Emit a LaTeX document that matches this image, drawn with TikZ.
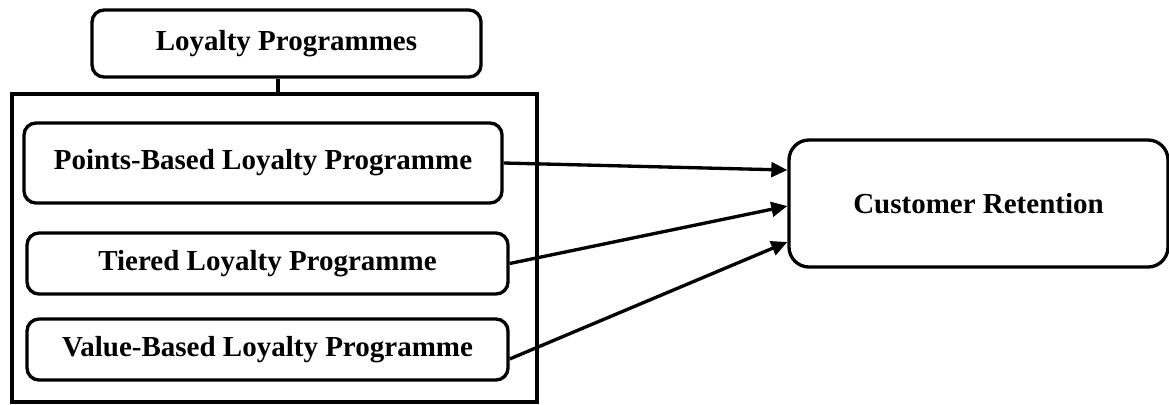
\documentclass[tikz,border=0pt]{standalone}
\usepackage{fontspec}
\setmainfont{Liberation Serif}
\usetikzlibrary{arrows.meta}
\begin{document}
\begin{tikzpicture}[x=0.75pt,y=-0.75pt,
  every node/.style={font=\fontsize{21.75}{26}\selectfont\bfseries, inner sep=0pt},
  rbox/.style={draw, line width=2.5pt, rounded corners=9pt},
  bigbox/.style={draw, line width=2.5pt, rounded corners=15pt},
  frame/.style={draw, line width=2.5pt},
  link/.style={line width=2.5pt},
  arr/.style={line width=2.5pt, -{Triangle[length=12pt,width=11pt]}}]
\useasboundingbox (0,0) rectangle (1169,404);
\node[rbox, minimum width=291.75pt, minimum height=50.25pt] (tp) at (286.5,43.5) {Loyalty Programmes};
\node[frame, minimum width=393.75pt, minimum height=231pt] (outer) at (274.5,248) {};
\node[rbox, minimum width=358.5pt, minimum height=60pt] (pb) at (263,163) {Points-Based Loyalty Programme};
\node[rbox, minimum width=360.75pt, minimum height=45.75pt] (tl) at (267.5,263.5) {Tiered Loyalty Programme};
\node[rbox, minimum width=360.75pt, minimum height=45.75pt] (vb) at (267.5,349.5) {Value-Based Loyalty Programme};
\node[bigbox, minimum width=284.25pt, minimum height=95.25pt] (cr) at (978.5,203.5) {Customer Retention};
\draw[link] ([xshift=-6.4pt]tp.south) -- ([xshift=-6.4pt]tp.south |- outer.north);
\draw[arr] (pb.east) -- ([yshift=25.1pt]cr.west);
\draw[arr] (tl.east) -- ([yshift=-1.9pt]cr.west);
\draw[arr] ([yshift=-7.1pt]vb.east) -- ([yshift=-28.9pt]cr.west);
\end{tikzpicture}
\end{document}
